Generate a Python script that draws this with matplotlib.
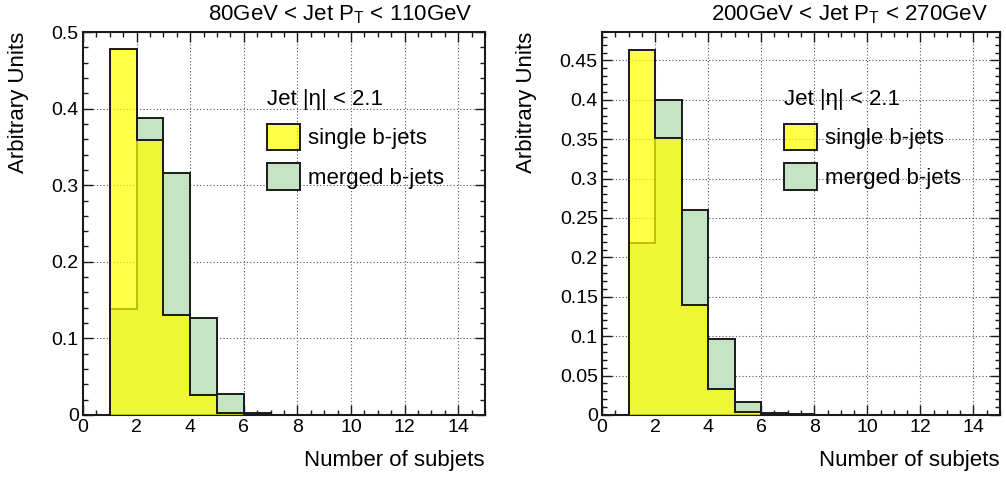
import numpy as np
import matplotlib
matplotlib.use("Agg")
import matplotlib.pyplot as plt
from matplotlib.ticker import MultipleLocator

plt.rcParams["font.family"] = ["Liberation Sans", "DejaVu Sans"]

# bin edges: number of subjets, unit-width bins from 0 to 15
edges = np.arange(0, 16)

# normalised subjet multiplicity, 80 < pT < 110 GeV
single_low = [0.0, 0.478, 0.359, 0.131, 0.026, 0.003, 0.0, 0.0, 0.0, 0.0, 0.0, 0.0, 0.0, 0.0, 0.0]
merged_low = [0.0, 0.139, 0.388, 0.316, 0.127, 0.027, 0.003, 0.0, 0.0, 0.0, 0.0, 0.0, 0.0, 0.0, 0.0]

# normalised subjet multiplicity, 200 < pT < 270 GeV
single_high = [0.0, 0.463, 0.352, 0.139, 0.033, 0.004, 0.0, 0.0, 0.0, 0.0, 0.0, 0.0, 0.0, 0.0, 0.0]
merged_high = [0.0, 0.218, 0.400, 0.260, 0.096, 0.016, 0.002, 0.001, 0.0, 0.0, 0.0, 0.0, 0.0, 0.0, 0.0]

titles = ["80GeV < Jet P$_\\mathregular{T}$ < 110GeV", "200GeV < Jet P$_\\mathregular{T}$ < 270GeV"]
legend_title = "Jet |η| < 2.1"
labels = ["single b-jets", "merged b-jets"]
xlabel = "Number of subjets"
ylabel = "Arbitrary Units"

panels = [
    dict(single=single_low, merged=merged_low, title=titles[0], ymax=0.5,
         ymajor=0.1, yminor=0.02, rect=[0.0825, 0.1318, 0.3996, 0.8012]),
    dict(single=single_high, merged=merged_high, title=titles[1], ymax=0.486,
         ymajor=0.05, yminor=0.01, rect=[0.5984, 0.1318, 0.3956, 0.8012]),
]

yellow = (1.0, 1.0, 0.0, 0.72)
green = "#c4e4c4"
edge = "#1a1a1a"
text_size = 16

fig = plt.figure(figsize=(10.06, 4.78), dpi=100)

for p in panels:
    ax = fig.add_axes(p["rect"])
    ax.set_axisbelow(True)
    h_merged = ax.stairs(p["merged"], edges, fill=True, facecolor=green,
                         edgecolor=edge, linewidth=1.4, label=labels[1], zorder=2)
    h_single = ax.stairs(p["single"], edges, fill=True, facecolor=yellow,
                         edgecolor=edge, linewidth=1.4, label=labels[0], zorder=3)

    ax.set_xlim(0, 15)
    ax.set_ylim(0, p["ymax"])
    ax.xaxis.set_major_locator(MultipleLocator(2))
    ax.xaxis.set_minor_locator(MultipleLocator(0.5))
    ax.yaxis.set_major_locator(MultipleLocator(p["ymajor"]))
    ax.yaxis.set_minor_locator(MultipleLocator(p["yminor"]))
    ax.yaxis.set_major_formatter(plt.FuncFormatter(lambda v, _: "0" if abs(v) < 1e-9 else f"{v:g}"))

    ax.tick_params(which="both", direction="in", top=True, right=True,
                   labelsize=14, color=edge, pad=3)
    ax.tick_params(which="major", length=7.2, width=1.0)
    ax.tick_params(which="minor", length=3.6, width=1.0)
    for s in ax.spines.values():
        s.set_linewidth(1.5)
        s.set_color(edge)

    ax.grid(True, which="major", linestyle=(0, (1, 2)), linewidth=0.8, color="#555555")

    ax.text(0.97, 1.015, p["title"], transform=ax.transAxes, ha="right",
            va="bottom", fontsize=text_size)
    ax.set_xlabel(xlabel, fontsize=text_size, loc="right", labelpad=10)
    ax.set_ylabel(ylabel, fontsize=text_size, loc="top", labelpad=16)

    leg = ax.legend(handles=[h_single, h_merged], labels=labels, title=legend_title,
                    loc="upper left", bbox_to_anchor=(0.418, 0.891), frameon=False,
                    fontsize=text_size, title_fontsize=text_size, handlelength=1.5,
                    handleheight=1.45, labelspacing=0.6, handletextpad=0.35,
                    borderpad=0.2)
    leg._legend_box.align = "left"

fig.savefig("out.png", dpi=100)
